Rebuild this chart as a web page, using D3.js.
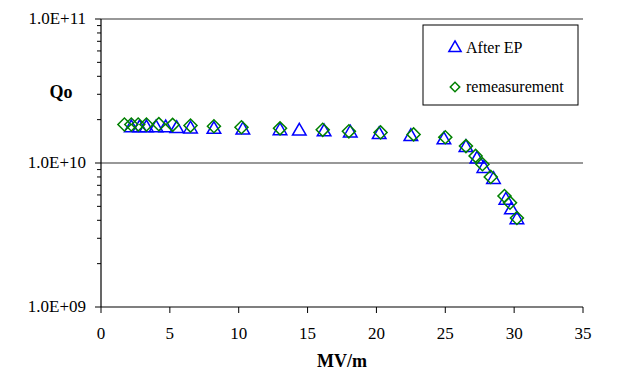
<!DOCTYPE html>
<html>
<head>
<meta charset="utf-8">
<script src="https://cdn.jsdelivr.net/npm/d3@7"></script>
<style>
  body { margin: 0; background: #fff; }
  svg text { font-family: "Liberation Serif", "Times New Roman", serif; }
</style>
</head>
<body>
<div id="chart"></div>
<script>
// After EP (triangles)
const afterX = [2.2, 2.8, 3.3, 4.0, 4.7, 5.5, 6.5, 8.2, 10.3, 13.0, 14.4, 16.2, 18.1, 20.2, 22.5, 24.9, 26.5, 27.3, 27.8, 28.5, 29.4, 29.8, 30.2];
const afterQ = [1.78e10, 1.78e10, 1.78e10, 1.78e10, 1.78e10, 1.76e10, 1.75e10, 1.74e10, 1.72e10, 1.7e10, 1.69e10, 1.67e10, 1.64e10, 1.6e10, 1.55e10, 1.47e10, 1.3e10, 1.08e10, 9.3e9, 7.8e9, 5.6e9, 4.8e9, 4.1e9];
// remeasurement (diamonds)
const remX = [1.7, 2.2, 2.7, 3.3, 4.2, 5.2, 6.5, 8.2, 10.2, 13.0, 16.1, 18.0, 20.3, 22.7, 25.0, 26.5, 27.2, 27.7, 28.3, 29.3, 29.7, 30.2];
const remQ = [1.85e10, 1.85e10, 1.85e10, 1.85e10, 1.86e10, 1.84e10, 1.82e10, 1.8e10, 1.77e10, 1.74e10, 1.7e10, 1.66e10, 1.63e10, 1.58e10, 1.51e10, 1.31e10, 1.12e10, 9.8e9, 8.0e9, 5.9e9, 5.3e9, 4.15e9];

const xTicks = [0, 5, 10, 15, 20, 25, 30, 35];
const yMajor = [1e9, 1e10, 1e11];
const seriesNames = ["After EP", "remeasurement"];

const W = 626, H = 380;
const margin = { top: 19, right: 43, bottom: 73, left: 101 };
const width = W - margin.left - margin.right;
const height = H - margin.top - margin.bottom;

const svg = d3.select("#chart").append("svg")
  .attr("width", W).attr("height", H);
const g = svg.append("g")
  .attr("transform", `translate(${margin.left},${margin.top})`);

const x = d3.scaleLinear().domain([0, 35]).range([0, width]);
const y = d3.scaleLog().domain([1e9, 1e11]).range([height, 0]);

// gridlines at decades
g.selectAll(".grid").data(yMajor.slice(1)).join("line")
  .attr("x1", 0).attr("x2", width)
  .attr("y1", d => y(d)).attr("y2", d => y(d))
  .attr("stroke", "#333").attr("stroke-width", 1.2);

// y axis with minor ticks
const minor = [];
[1e9, 1e10].forEach(b => { for (let k = 2; k <= 9; k++) minor.push(b * k); });
g.selectAll(".minor").data(minor).join("line")
  .attr("x1", -4).attr("x2", 0)
  .attr("y1", d => y(d)).attr("y2", d => y(d))
  .attr("stroke", "#000");
g.selectAll(".major").data(yMajor).join("line")
  .attr("x1", -6).attr("x2", 0)
  .attr("y1", d => y(d)).attr("y2", d => y(d))
  .attr("stroke", "#000");
g.append("line").attr("x1", 0).attr("x2", 0).attr("y1", 0).attr("y2", height)
  .attr("stroke", "#000").attr("stroke-width", 1.2);
g.selectAll(".ylab").data(yMajor).join("text")
  .attr("x", -15).attr("y", d => y(d) + 5)
  .attr("text-anchor", "end").attr("font-size", 17)
  .text(d => "1.0E+" + String(Math.round(Math.log10(d))).padStart(2, "0"));

// x axis
g.append("line").attr("x1", 0).attr("x2", width).attr("y1", height).attr("y2", height)
  .attr("stroke", "#000").attr("stroke-width", 1.2);
g.selectAll(".xt").data(xTicks).join("line")
  .attr("x1", d => x(d)).attr("x2", d => x(d))
  .attr("y1", height).attr("y2", height + 6)
  .attr("stroke", "#000");
g.selectAll(".xlab").data(xTicks).join("text")
  .attr("x", d => x(d)).attr("y", height + 32)
  .attr("text-anchor", "middle").attr("font-size", 17)
  .text(d => d);

// axis titles
svg.append("text").attr("x", 342).attr("y", 367)
  .attr("text-anchor", "middle").attr("font-size", 18).attr("font-weight", "bold")
  .text("MV/m");
svg.append("text").attr("x", 61).attr("y", 98)
  .attr("text-anchor", "middle").attr("font-size", 18).attr("font-weight", "bold")
  .text("Qo");

const tri = d3.symbol().type(d3.symbolTriangle).size(80);
const sq = d3.symbol().type(d3.symbolSquare).size(85);

// series
g.selectAll(".tri").data(afterX.map((v, i) => [v, afterQ[i]])).join("path")
  .attr("d", tri)
  .attr("transform", d => `translate(${x(d[0])},${y(d[1]) + 1})`)
  .attr("fill", "none").attr("stroke", "#0000ff").attr("stroke-width", 1.5);
g.selectAll(".dia").data(remX.map((v, i) => [v, remQ[i]])).join("path")
  .attr("d", sq)
  .attr("transform", d => `translate(${x(d[0])},${y(d[1])}) rotate(45)`)
  .attr("fill", "none").attr("stroke", "#008000").attr("stroke-width", 1.5);

// legend
const leg = svg.append("g");
leg.append("rect").attr("x", 423).attr("y", 25).attr("width", 155).attr("height", 80)
  .attr("fill", "#fff").attr("stroke", "#000").attr("stroke-width", 1);
leg.append("path").attr("d", d3.symbol().type(d3.symbolTriangle).size(65))
  .attr("transform", "translate(455,48)")
  .attr("fill", "none").attr("stroke", "#0000ff").attr("stroke-width", 1.5);
leg.append("path").attr("d", d3.symbol().type(d3.symbolSquare).size(45))
  .attr("transform", "translate(455,87) rotate(45)")
  .attr("fill", "none").attr("stroke", "#008000").attr("stroke-width", 1.5);
leg.selectAll(".lt").data(seriesNames).join("text")
  .attr("x", 466).attr("y", (d, i) => 53 + i * 39)
  .attr("font-size", 16)
  .text(d => d);
</script>
</body>
</html>
